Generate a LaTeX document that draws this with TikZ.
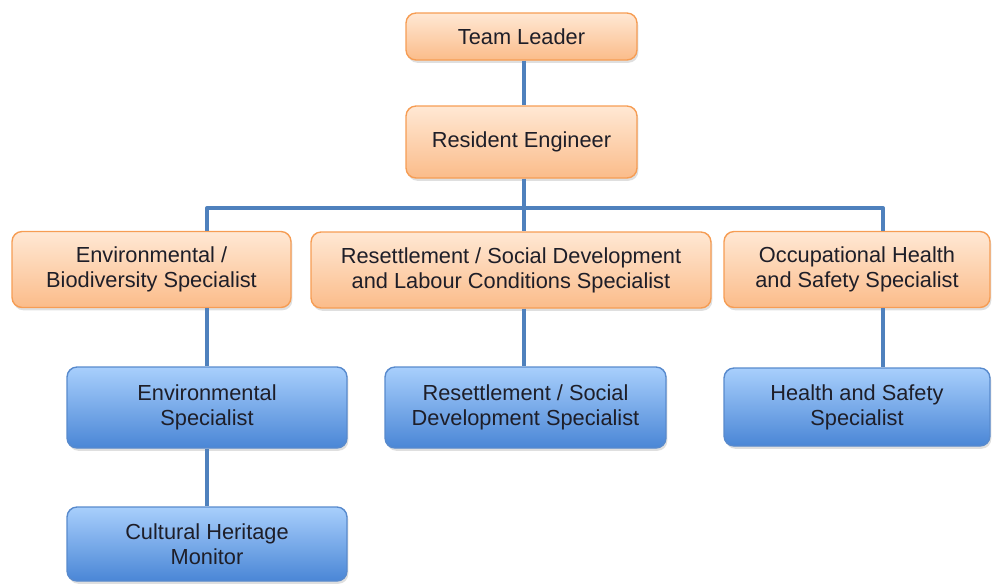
\documentclass[tikz,border=0pt]{standalone}
\usepackage{fontspec}
\setmainfont{Liberation Sans}
\usetikzlibrary{shadows}
\definecolor{linkblue}{RGB}{79,129,189}
\definecolor{ortop}{RGB}{255,232,212}
\definecolor{orbot}{RGB}{251,188,138}
\definecolor{oredge}{RGB}{246,157,84}
\definecolor{bltop}{RGB}{168,207,252}
\definecolor{blbot}{RGB}{74,134,214}
\definecolor{bledge}{RGB}{88,138,205}
\definecolor{ink}{RGB}{30,30,40}
\tikzset{
  card/.style={rounded corners=0.2cm,line width=0.8pt,align=center,text=ink,
    font=\fontsize{12.4}{14.2}\selectfont,
    drop shadow={shadow xshift=0.8pt,shadow yshift=-1.6pt,opacity=0.25}},
  lead/.style={card,draw=oredge,top color=ortop,bottom color=orbot},
  staff/.style={card,draw=bledge,top color=bltop,bottom color=blbot},
  link/.style={draw=linkblue,line width=2.3pt}
}
\begin{document}
\begin{tikzpicture}[x=0.02cm,y=-0.02cm,line join=round]
\useasboundingbox (0,0) rectangle (992,583);
% upper boxes
\node[lead,minimum width=4.62cm,minimum height=0.94cm] (tl) at (521.5,36.5) {Team Leader};
\node[lead,minimum width=4.62cm,minimum height=1.44cm] (re) at (521.5,142) {Resident Engineer};
\node[lead,minimum width=5.58cm,minimum height=1.52cm] (env) at (151.5,269.5) {Environmental /\\Biodiversity Specialist};
\node[lead,minimum width=8.0cm,minimum height=1.52cm] (res) at (511,270) {Resettlement / Social Development\\and Labour Conditions Specialist};
\node[lead,minimum width=5.32cm,minimum height=1.52cm] (ohs) at (857,269.5) {Occupational Health\\and Safety Specialist};
% lower boxes
\node[staff,minimum width=5.6cm,minimum height=1.62cm] (envs) at (207,407.5) {Environmental\\Specialist};
\node[staff,minimum width=5.62cm,minimum height=1.62cm] (ress) at (525.5,407.5) {Resettlement / Social\\Development Specialist};
\node[staff,minimum width=5.32cm,minimum height=1.56cm] (hs) at (857,407) {Health and Safety\\Specialist};
\node[staff,minimum width=5.6cm,minimum height=1.48cm] (cult) at (207,544) {Cultural Heritage\\Monitor};
% bus line
\coordinate (bl) at (207,208);
\coordinate (bm) at (524,208);
\coordinate (br) at (883,208);
\draw[link] (tl.south -| bm) -- (re.north -| bm);
\draw[link] (re.south -| bm) -- (res.north -| bm);
\draw[link] (bl |- env.north) -- (bl) -- (br) -- (br |- ohs.north);
\draw[link] (bm |- res.south) -- (bm |- ress.north);
\draw[link] (bl |- env.south) -- (envs.north);
\draw[link] (envs.south) -- (cult.north);
\draw[link] (br |- ohs.south) -- (br |- hs.north);
\end{tikzpicture}
\end{document}
